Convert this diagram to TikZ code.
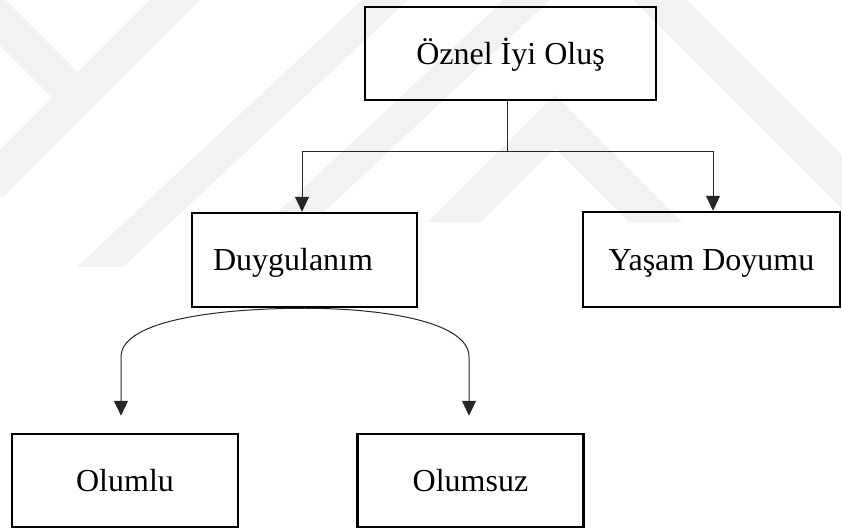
\documentclass[tikz,border=0pt]{standalone}
\usepackage{fontspec}
\setmainfont{Liberation Serif}
\usetikzlibrary{arrows.meta}
\begin{document}
\begin{tikzpicture}[x=1pt,y=-1pt,
  box/.style={draw, line width=2.5pt, inner sep=0pt,
    text height=21pt, text depth=0pt,
    font=\fontsize{32}{38}\selectfont},
  link/.style={line width=1pt, draw=black!85},
  arr/.style={link, -{Triangle[length=15pt,width=14pt]}},
  wm/.style={fill=black!5}
]
\useasboundingbox (0,0) rectangle (842,528);

% faint background watermark stripes
\begin{scope}
  \clip (0,0) rectangle (842,528);
  \draw[black!5, line width=36pt] (-10,10) -- (85,105);
  \draw[black!5, line width=36pt] (-10,185) -- (200,-25);
  \fill[wm] (77,267) -- (123,267) -- (408,0) -- (362,0) -- cycle;
  \fill[wm] (277,213) -- (323,213) -- (550,0) -- (504,0) -- cycle;
  \fill[wm] (428,222) -- (555,95) -- (682,222) -- (629,222) -- (555,148) -- (481,222) -- cycle;
  \fill[wm] (633,0) -- (687,0) -- (842,155) -- (842,209) -- cycle;
\end{scope}

% boxes
\node[box, minimum width=291pt, minimum height=93pt] (root) at (510.5,53.5) {Öznel İyi Oluş};
\node[box, minimum width=225pt, minimum height=94pt, text width=183pt,
      align=left, inner xsep=21pt] (aff) at (304.5,260) {Duygulanım};
\node[box, minimum width=257pt, minimum height=95pt] (life) at (711.5,259.5) {Yaşam Doyumu};
\node[box, minimum width=226pt, minimum height=93pt] (pos) at (125,480.5) {Olumlu};
\node[box, minimum width=226pt, minimum height=93pt] (neg) at (470.5,480.5) {Olumsuz};

% branching from the root
\coordinate (bus) at (0,151);
\coordinate (bl) at (302,151);
\coordinate (br) at (713,151);
\coordinate (stem) at (507,0);
\draw[link] (stem |- root.south) -- (stem |- bus);
\draw[link] (bl) -- (br);
\draw[arr] (bl) -- (bl |- aff.north);
\draw[arr] (br) -- (br |- life.north);

% curved links from the affect box
\coordinate (lk) at (121,357);
\coordinate (rk) at (469,357);
\draw[arr, shorten >=17pt] (aff.south) .. controls +(-80,0) and +(0,-38) .. (lk) -- (lk |- pos.north);
\draw[arr, shorten >=17pt] (aff.south) .. controls +(76,0) and +(0,-36) .. (rk) -- (rk |- neg.north);
\end{tikzpicture}
\end{document}
